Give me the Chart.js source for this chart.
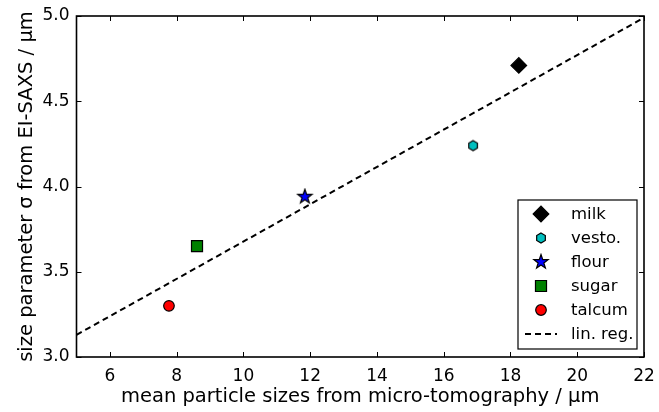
<!DOCTYPE html>
<html lang="en">
<head>
<meta charset="UTF-8">
<title>particle sizes</title>
<script src="https://cdn.jsdelivr.net/npm/chart.js"></script>
<style>
  body { margin: 0; background: #fff; }
</style>
</head>
<body>
<canvas id="canvas" width="659" height="412"></canvas>
<script>
// mean size from micro-tomography (um) vs. size parameter sigma from EI-SAXS (um)
const samples = ['milk', 'vesto.', 'flour', 'sugar', 'talcum'];
const tomoSize = [18.25, 16.88, 11.84, 8.61, 7.77];
const saxsSigma = [4.71, 4.24, 3.94, 3.65, 3.30];
// linear regression, end points
const regLabel = 'lin. reg.';
const regX = [5, 22];
const regY = [3.13, 4.99];
const xTicks = [6, 8, 10, 12, 14, 16, 18, 20, 22];
const yTicks = [3.0, 3.5, 4.0, 4.5, 5.0];

const FONT = 'DejaVu Sans';
const TICK_FS = 17;
const TITLE_FS = 19.5;
const LEGEND_FS = 16.5;

// markers chart.js does not have
function makeMarker(size, fill, path) {
    const c = document.createElement('canvas');
    c.width = size; c.height = size;
    const g = c.getContext('2d');
    g.translate(size / 2, size / 2);
    g.beginPath();
    path(g);
    g.closePath();
    g.fillStyle = fill;
    g.strokeStyle = '#000';
    g.lineWidth = 1.2;
    g.fill();
    g.stroke();
    return c;
}
const hexagon = makeMarker(14, '#00bfbf', g => {
    for (let i = 0; i < 6; i++) {
        const a = -Math.PI / 2 + i * Math.PI / 3;
        g.lineTo(5 * Math.cos(a), 5 * Math.sin(a));
    }
});
const star = makeMarker(18, '#0000ff', g => {
    for (let i = 0; i < 10; i++) {
        const r = i % 2 ? 3 : 7.5;
        const a = -Math.PI / 2 + i * Math.PI / 5;
        g.lineTo(r * Math.cos(a), r * Math.sin(a));
    }
});

const markerStyles = [
    { pointStyle: 'rectRot', radius: 7.8, color: '#000000' },
    { pointStyle: hexagon, radius: 5, color: '#00bfbf' },
    { pointStyle: star, radius: 7, color: '#0000ff' },
    { pointStyle: 'rect', radius: 7.8, color: '#008000' },
    { pointStyle: 'circle', radius: 5.3, color: '#ff0000' }
];

const datasets = samples.map((name, i) => ({
    label: name,
    data: [{ x: tomoSize[i], y: saxsSigma[i] }],
    pointStyle: markerStyles[i].pointStyle,
    pointRadius: markerStyles[i].radius,
    pointHoverRadius: markerStyles[i].radius,
    backgroundColor: markerStyles[i].color,
    borderColor: '#000',
    borderWidth: 1.2,
    order: 0
}));
datasets.push({
    label: regLabel,
    data: regX.map((x, i) => ({ x: x, y: regY[i] })),
    showLine: true,
    borderColor: '#000',
    borderWidth: 2,
    borderDash: [6, 4],
    pointRadius: 0,
    order: 1
});

// frame, inward ticks on all four sides, legend box
const framePlugin = {
    id: 'frame',
    afterDraw(chart) {
        const ctx = chart.ctx;
        const a = chart.chartArea;
        const xs = chart.scales.x, ys = chart.scales.y;
        ctx.save();
        ctx.strokeStyle = '#000';
        ctx.lineWidth = 1;
        ctx.beginPath();
        xTicks.forEach(v => {
            const px = Math.round(xs.getPixelForValue(v)) + 0.5;
            ctx.moveTo(px, a.bottom); ctx.lineTo(px, a.bottom - 5);
            ctx.moveTo(px, a.top); ctx.lineTo(px, a.top + 5);
        });
        yTicks.forEach(v => {
            const py = Math.round(ys.getPixelForValue(v)) + 0.5;
            ctx.moveTo(a.left, py); ctx.lineTo(a.left + 5, py);
            ctx.moveTo(a.right, py); ctx.lineTo(a.right - 5, py);
        });
        ctx.stroke();
        ctx.lineWidth = 1.6;
        ctx.strokeRect(a.left, a.top, a.right - a.left, a.bottom - a.top);

        // legend
        const bx = 518, by = 200, bw = 119, bh = 149;
        ctx.fillStyle = '#fff';
        ctx.fillRect(bx, by, bw, bh);
        ctx.lineWidth = 1.2;
        ctx.strokeRect(bx, by, bw, bh);
        ctx.font = LEGEND_FS + 'px "' + FONT + '"';
        ctx.textBaseline = 'middle';
        ctx.textAlign = 'left';
        chart.data.datasets.forEach((ds, i) => {
            const y = by + 14 + i * 24;
            ctx.save();
            if (ds.showLine) {
                ctx.setLineDash(ds.borderDash);
                ctx.lineWidth = ds.borderWidth;
                ctx.beginPath();
                ctx.moveTo(bx + 7, y); ctx.lineTo(bx + 39, y);
                ctx.stroke();
            } else {
                ctx.fillStyle = ds.backgroundColor;
                ctx.strokeStyle = ds.borderColor;
                ctx.lineWidth = ds.borderWidth;
                Chart.helpers.drawPoint(ctx, {
                    pointStyle: ds.pointStyle, radius: ds.pointRadius,
                    rotation: 0, borderWidth: ds.borderWidth
                }, bx + 23, y);
            }
            ctx.restore();
            ctx.fillStyle = '#000';
            ctx.fillText(ds.label, bx + 53, y + 1);
        });
        ctx.restore();
    }
};

const ctx = document.getElementById('canvas').getContext('2d');
const chart = new Chart(ctx, {
    type: 'scatter',
    data: { datasets: datasets },
    options: {
        responsive: false,
        animation: false,
        devicePixelRatio: 1,
        layout: { padding: { top: 16, right: 15, left: 0, bottom: 0 } },
        plugins: { legend: { display: false }, tooltip: { enabled: false } },
        scales: {
            x: {
                type: 'linear',
                min: 5, max: 22,
                afterBuildTicks: s => { s.ticks = xTicks.map(v => ({ value: v })); },
                afterFit: s => { s.height = 55; s.paddingLeft = 0; s.paddingRight = 0; },
                grid: { display: false, drawTicks: false },
                border: { display: false },
                ticks: { color: '#000', padding: 9, maxRotation: 0, font: { family: FONT, size: TICK_FS } },
                title: {
                    display: true,
                    text: 'mean particle sizes from micro-tomography / μm',
                    color: '#000',
                    padding: { top: 0, bottom: 3 },
                    font: { family: FONT, size: TITLE_FS }
                }
            },
            y: {
                type: 'linear',
                min: 3, max: 5,
                afterBuildTicks: s => { s.ticks = yTicks.map(v => ({ value: v })); },
                afterFit: s => { s.width = 76.5; s.paddingTop = 0; s.paddingBottom = 0; },
                grid: { display: false, drawTicks: false },
                border: { display: false },
                ticks: { color: '#000', padding: 7, font: { family: FONT, size: TICK_FS },
                         callback: v => v.toFixed(1) },
                title: {
                    display: true,
                    text: 'size parameter σ from EI-SAXS / μm',
                    color: '#000',
                    padding: { top: 15.5, bottom: 0 },
                    font: { family: FONT, size: TITLE_FS }
                }
            }
        }
    },
    plugins: [framePlugin]
});
</script>
</body>
</html>
